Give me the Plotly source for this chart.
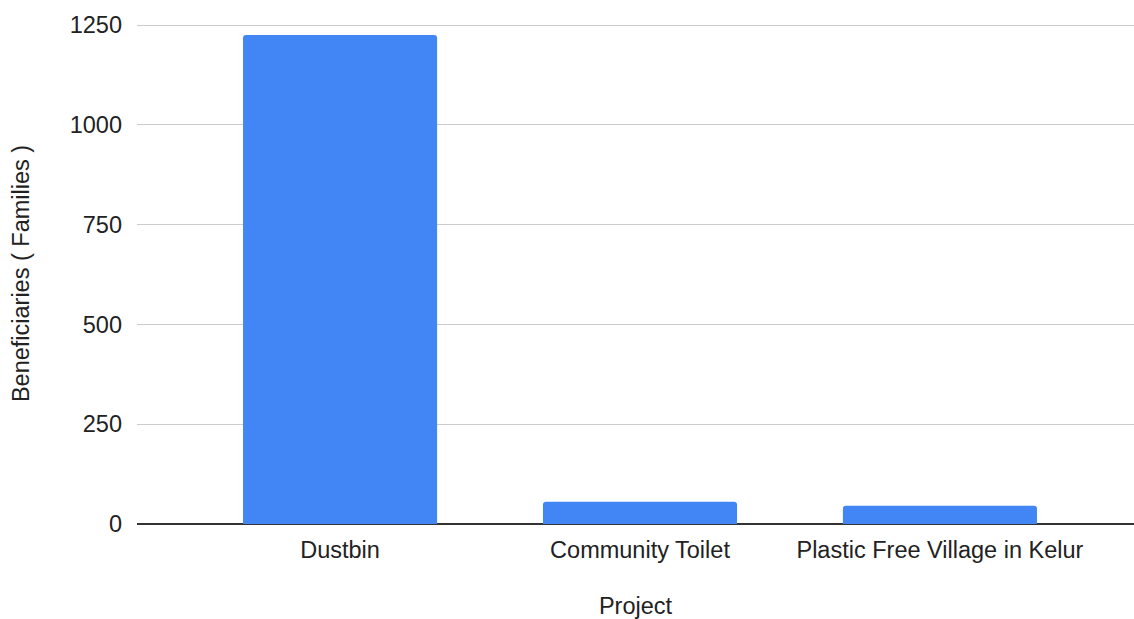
import plotly.graph_objects as go

projects = ["Dustbin", "Community Toilet", "Plastic Free Village in Kelur"]
beneficiaries = [1225, 56, 46]
y_ticks = [0, 250, 500, 750, 1000, 1250]

fig = go.Figure(go.Bar(
    x=projects, y=beneficiaries,
    marker=dict(color="#4285F4", line=dict(width=0), cornerradius=3),
))

font = "Liberation Sans, Arial, sans-serif"
fs = 23.5
txt = "#222222"
fig.update_layout(
    width=1134, height=619,
    margin=dict(l=137, r=0, t=23, b=95, autoexpand=False),
    plot_bgcolor="white", paper_bgcolor="white",
    bargap=0.353,
    showlegend=False,
    font=dict(family=font, size=fs, color=txt),
)
fig.update_xaxes(
    range=[-0.677, 2.647], automargin=False,
    showgrid=False, showline=False, ticks="", ticklabelstandoff=9,
    tickfont=dict(size=fs, color=txt),
    title=dict(text="Project", font=dict(size=fs, color=txt), standoff=40),
)
fig.update_yaxes(
    range=[0, 1255], tickvals=y_ticks, automargin=False,
    showgrid=True, gridcolor="#cccccc", gridwidth=1,
    zeroline=True, zerolinecolor="#333333", zerolinewidth=2,
    showline=False, ticks="", ticklabelstandoff=14,
    tickfont=dict(size=fs, color=txt),
    title=dict(text="Beneficiaries ( Families )", font=dict(size=fs, color=txt), standoff=33),
)
fig.write_html(
    "out.html",
    config={"displayModeBar": False},
    post_script="document.body.style.margin='0';document.body.style.overflow='hidden';",
)
